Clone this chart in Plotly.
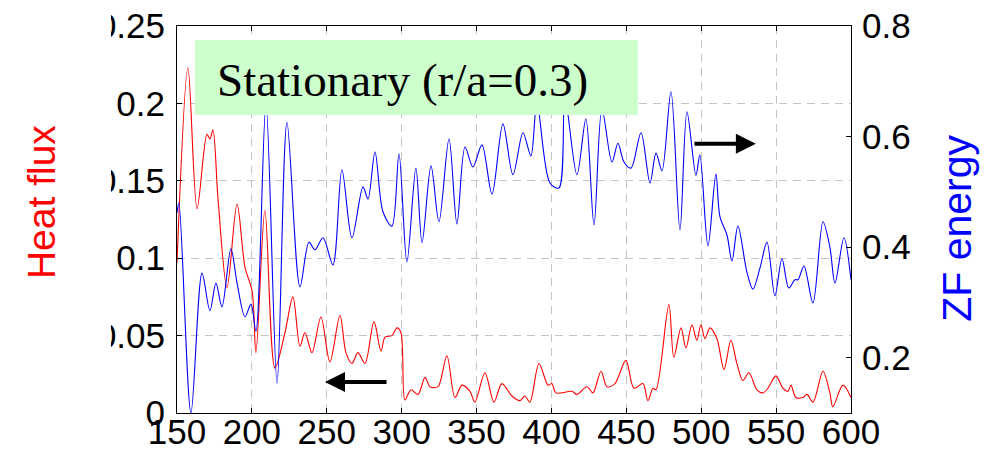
import plotly.graph_objects as go

# Heat flux (left axis) sampled along time
heat_t = [150, 157.3, 163.4, 170.0, 172.0, 174.0, 177.4, 183.4, 190.1, 195.4,
          200.1, 202.7, 208.7, 215.4, 222.1, 227.4, 232.1, 235.4, 240.1, 246.1,
          252.1, 258.8, 262.8, 266.8, 270.8, 275.5, 281.5, 286.2, 288.9, 293.5,
          296.9, 299.5, 302.2, 306.2, 310.9, 315.6, 318.9, 324.2, 330.2, 335.6,
          340.3, 345.6, 348.9, 355.6, 361.6, 366.9, 373.6, 379.0, 382.3, 385.6,
          391.7, 397.7, 400.3, 403.0, 413.7, 417.0, 423.7, 427.7, 433.1, 437.1,
          442.4, 449.7, 455.1, 461.1, 464.4, 467.8, 469.8, 478.4, 481.7, 486.5,
          489.8, 493.8, 497.1, 499.8, 502.5, 505.8, 510.5, 515.2, 519.8, 523.8,
          527.8, 531.8, 537.2, 541.2, 544.5, 549.9, 554.5, 557.9, 559.9, 563.2,
          567.9, 570.6, 574.6, 581.3, 585.9, 587.9, 594.6, 600]
heat_flux = [0.097, 0.223, 0.132, 0.180, 0.177, 0.183, 0.138, 0.081, 0.135, 0.094,
             0.079, 0.039, 0.131, 0.029, 0.052, 0.075, 0.043, 0.052, 0.039, 0.062,
             0.033, 0.063, 0.039, 0.032, 0.039, 0.032, 0.059, 0.040, 0.049, 0.050,
             0.055, 0.052, 0.0084, 0.015, 0.012, 0.023, 0.017, 0.017, 0.037, 0.010,
             0.018, 0.014, 0.007, 0.026, 0.007, 0.019, 0.011, 0.008, 0.011, 0.007,
             0.032, 0.018, 0.019, 0.013, 0.014, 0.012, 0.017, 0.013, 0.027, 0.017,
             0.019, 0.034, 0.016, 0.019, 0.008, 0.016, 0.015, 0.070, 0.036, 0.055,
             0.042, 0.057, 0.047, 0.057, 0.048, 0.055, 0.048, 0.028, 0.047, 0.032,
             0.021, 0.026, 0.015, 0.013, 0.016, 0.024, 0.016, 0.014, 0.018, 0.010,
             0.010, 0.012, 0.007, 0.027, 0.013, 0.004, 0.018, 0.010]

# Zonal flow energy (right axis)
zf_t = [150.0, 151.3, 159.3, 166.7, 172.0, 176.0, 180.0, 186.0, 190.1, 195.4,
        199.4, 202.7, 209.4, 216.8, 223.4, 232.1, 238.1, 242.1, 247.5, 254.1,
        260.1, 266.8, 274.2, 277.5, 282.2, 287.5, 293.5, 298.2, 303.5, 309.5,
        313.6, 319.6, 324.9, 331.6, 336.9, 342.3, 347.6, 353.6, 360.3, 367.6,
        374.3, 381.0, 386.3, 390.3, 399.0, 405.0, 409.0, 417.0, 423.0, 428.4,
        433.7, 440.4, 444.4, 448.4, 453.1, 459.8, 465.8, 469.8, 473.8, 479.8,
        485.8, 490.5, 496.5, 499.1, 504.5, 509.8, 512.5, 517.2, 520.5, 524.5,
        530.5, 534.5, 539.2, 543.9, 549.2, 553.9, 558.5, 562.6, 564.6, 568.6,
        574.6, 581.3, 585.9, 589.3, 595.3, 600]
zf_energy = [0.462, 0.480, 0.100, 0.353, 0.285, 0.335, 0.292, 0.397, 0.335, 0.274,
             0.297, 0.248, 0.660, 0.154, 0.626, 0.328, 0.409, 0.395, 0.417, 0.368,
             0.540, 0.417, 0.509, 0.487, 0.572, 0.464, 0.438, 0.569, 0.373, 0.543,
             0.408, 0.547, 0.446, 0.596, 0.442, 0.581, 0.545, 0.585, 0.496, 0.623,
             0.531, 0.607, 0.565, 0.660, 0.516, 0.507, 0.670, 0.531, 0.632, 0.440,
             0.650, 0.554, 0.588, 0.554, 0.543, 0.607, 0.516, 0.570, 0.538, 0.681,
             0.431, 0.645, 0.530, 0.567, 0.402, 0.532, 0.455, 0.422, 0.375, 0.438,
             0.355, 0.324, 0.362, 0.409, 0.312, 0.379, 0.326, 0.341, 0.341, 0.366,
             0.299, 0.446, 0.400, 0.335, 0.417, 0.341]

x_ticks = [150, 200, 250, 300, 350, 400, 450, 500, 550, 600]
left_ticks = [0, 0.05, 0.1, 0.15, 0.2, 0.25]
right_ticks = [0.2, 0.4, 0.6, 0.8]

TICK_FONT = dict(family="Liberation Sans, Arial, sans-serif", size=35, color="black")
GRID = "#c4c4c4"

fig = go.Figure()
fig.add_trace(go.Scatter(x=heat_t, y=heat_flux, mode="lines", yaxis="y",
                         line=dict(color="#ff0000", width=1.1, shape="spline", smoothing=0.9),
                         showlegend=False))
fig.add_trace(go.Scatter(x=zf_t, y=zf_energy, mode="lines", yaxis="y2",
                         line=dict(color="#0000ff", width=1.1, shape="spline", smoothing=0.9),
                         showlegend=False))

fig.update_layout(
    width=990, height=451,
    margin=dict(l=177, r=139, t=26, b=38, pad=0),
    paper_bgcolor="white", plot_bgcolor="white",
    xaxis=dict(range=[150, 600], tickvals=x_ticks, ticks="inside", ticklen=5,
               tickcolor="black", showline=True, linecolor="black", linewidth=1,
               mirror="ticks", showgrid=True, gridcolor=GRID, griddash="8px,6px",
               gridwidth=1, zeroline=False, tickfont=TICK_FONT, ticklabelstandoff=-12,
               automargin=False),
    yaxis=dict(range=[0, 0.25], tickvals=left_ticks,
               ticktext=["0", "0.05", "0.1", "0.15", "0.2", "0.25"],
               ticks="inside", ticklen=5, tickcolor="black", showline=True,
               linecolor="black", linewidth=1, showgrid=True, gridcolor=GRID,
               griddash="8px,6px", gridwidth=1, zeroline=False, tickfont=TICK_FONT,
               ticklabelstandoff=4, automargin=False),
    yaxis2=dict(range=[0.1, 0.8], tickvals=right_ticks,
                ticktext=["0.2", "0.4", "0.6", "0.8"],
                overlaying="y", side="right", ticks="inside", ticklen=5,
                tickcolor="black", showline=True, linecolor="black", linewidth=1,
                showgrid=False, zeroline=False, tickfont=TICK_FONT,
                ticklabelstandoff=3, automargin=False),
)

# Label box
fig.add_shape(type="rect", xref="x", yref="y", x0=162.0, x1=457.7, y0=0.1925, y1=0.241,
              fillcolor="#ccffcc", line=dict(width=0), layer="above")
# trims the leading digit of the widest left labels
fig.add_shape(type="rect", xref="paper", yref="paper", x0=-0.175, x1=-0.098,
              y0=-0.02, y1=1.07, fillcolor="white", line=dict(width=0), layer="above")

fig.add_annotation(x=300.5, y=0.215, xref="x", yref="y", text="Stationary (r/a=0.3)",
                   showarrow=False, xanchor="center", yanchor="middle",
                   font=dict(family="Liberation Serif, Times New Roman, serif", size=47,
                             color="black"))

fig.add_annotation(x=-0.2018, y=0.545, xref="paper", yref="paper", text="Heat flux",
                   textangle=-90, showarrow=False, xanchor="center", yanchor="middle",
                   font=dict(family="Liberation Sans, Arial, sans-serif", size=39,
                             color="#ff0000"))
fig.add_annotation(x=1.157, y=0.478, xref="paper", yref="paper", text="ZF energy",
                   textangle=-90, showarrow=False, xanchor="center", yanchor="middle",
                   font=dict(family="Liberation Sans, Arial, sans-serif", size=41,
                             color="#0000ff"))

# Arrows pointing each curve to its axis
fig.add_annotation(x=248.8, y=0.020, xref="x", yref="y", ax=290.9, ay=0.020,
                   axref="x", ayref="y", text="", showarrow=True, arrowhead=2,
                   arrowsize=1, arrowwidth=4, arrowcolor="black")
fig.add_annotation(x=536.5, y=0.587, xref="x", yref="y2", ax=494.5, ay=0.587,
                   axref="x", ayref="y2", text="", showarrow=True, arrowhead=2,
                   arrowsize=1, arrowwidth=4, arrowcolor="black")

fig.write_html("out.html")
